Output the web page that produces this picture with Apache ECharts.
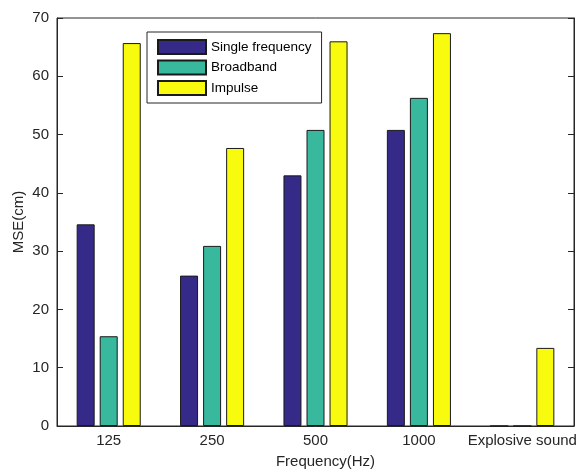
<!DOCTYPE html>
<html>
<head>
<meta charset="utf-8">
<script src="https://cdn.jsdelivr.net/npm/echarts@6/dist/echarts.min.js"></script>
<style>html,body{margin:0;padding:0;background:#fff;}#c{width:577px;height:470px;}</style>
</head>
<body>
<div id="c"></div>
<script>
const categories = ['125', '250', '500', '1000', 'Explosive sound'];
const singleFrequency = [34.6, 25.8, 43.0, 50.8, 0];
const broadband = [15.4, 30.9, 50.8, 56.3, 0];
const impulse = [65.7, 47.7, 66.0, 67.4, 13.4];
const yTicks = [0, 10, 20, 30, 40, 50, 60, 70];

const chart = echarts.init(document.getElementById('c'), null, {renderer: 'canvas'});
const font = 'Liberation Sans, Arial, sans-serif';
const barStyle = (c) => ({color: c, borderColor: '#1a1a1a', borderWidth: 1});
chart.setOption({
  animation: false,
  backgroundColor: '#fff',
  grid: {left: 57, top: 18, width: 517, height: 408, show: true, borderColor: '#262626', borderWidth: 1,
    containLabel: false, outerBoundsMode: 'none'},
  legend: {
    orient: 'vertical', left: 147, top: 32,
    padding: [7, 10, 7, 10], itemGap: 4.5, itemWidth: 48, itemHeight: 14,
    borderColor: '#262626', borderWidth: 1, backgroundColor: '#fff',
    textStyle: {fontFamily: font, fontSize: 13.5, lineHeight: 14, color: '#000', padding: [0, 0, 0, 0]},
    icon: 'rect',
    data: ['Single frequency', 'Broadband', 'Impulse']
  },
  xAxis: {
    type: 'category', data: categories, boundaryGap: true,
    axisLine: {lineStyle: {color: '#262626'}}, axisTick: {show: false},
    axisLabel: {fontFamily: font, fontSize: 15, color: '#262626', margin: 7, interval: 0},
    name: 'Frequency(Hz)', nameLocation: 'middle', nameGap: 28, nameMoveOverlap: false,
    nameTextStyle: {fontFamily: font, fontSize: 15, color: '#262626', padding: [0, 0, 0, 20]}
  },
  yAxis: [{
    type: 'value', min: 0, max: 70, interval: 10,
    axisLine: {show: true, lineStyle: {color: '#262626'}},
    axisTick: {show: true, inside: true, length: 6, lineStyle: {color: '#262626'}},
    axisLabel: {fontFamily: font, fontSize: 15, color: '#262626', margin: 8,
      formatter: (v) => yTicks.includes(v) ? String(v) : ''},
    splitLine: {show: false},
    name: 'MSE(cm)', nameLocation: 'middle', nameGap: 31, nameRotate: 90, nameMoveOverlap: false,
    nameTextStyle: {fontFamily: font, fontSize: 15, color: '#262626'}
  }, {
    type: 'value', min: 0, max: 70, interval: 10, position: 'right',
    axisLine: {show: true, lineStyle: {color: '#262626'}},
    axisTick: {show: true, inside: true, length: 6, lineStyle: {color: '#262626'}},
    axisLabel: {show: false}, splitLine: {show: false}
  }],
  series: [
    {name: 'Single frequency', type: 'bar', data: singleFrequency, barWidth: 18, barGap: '28%', itemStyle: barStyle('#352a87')},
    {name: 'Broadband', type: 'bar', data: broadband, barWidth: 18, barGap: '28%', itemStyle: barStyle('#38b99e')},
    {name: 'Impulse', type: 'bar', data: impulse, barWidth: 18, barGap: '28%', itemStyle: barStyle('#f9fb0e')}
  ]
});
</script>
</body>
</html>
